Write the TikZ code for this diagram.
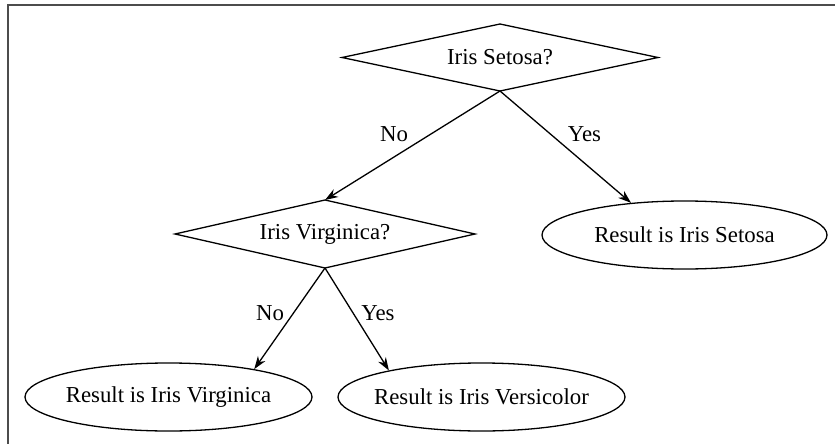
\documentclass[tikz,border=0pt]{standalone}
\usepackage{fontspec}
\setmainfont{Liberation Serif}
\usetikzlibrary{shapes.geometric,arrows.meta}
\begin{document}
\begin{tikzpicture}[x=1pt,y=-1pt,
  every node/.style={font=\fontsize{22.8}{27}\selectfont},
  dec/.style={draw, line width=1.3pt, line join=miter},
  res/.style={draw, line width=1.3pt, ellipse, inner sep=0pt, minimum width=286pt, minimum height=68pt},
  arr/.style={line width=1.3pt, -{Stealth[length=13pt,width=9pt]}},
  lbl/.style={inner sep=0pt},
  frame/.style={draw=black!70, line width=2pt}]
\useasboundingbox (0,0) rectangle (835,444);
\coordinate (ftl) at (8,5);
\coordinate (ftr) at (836,5);
\coordinate (fbl) at (8,445);
\draw[frame] (ftr) -- (ftl) -- (fbl);
% decision 1
\coordinate (d1n) at (500,24);
\coordinate (d1s) at (500,91);
\coordinate (d1w) at (342,57.5);
\coordinate (d1e) at (658,57.5);
\draw[dec] (d1n) -- (d1e) -- (d1s) -- (d1w) -- cycle;
\node (d1) at (500,57.5) {Iris Setosa?};
% decision 2
\coordinate (d2n) at (325,200);
\coordinate (d2s) at (325,268);
\coordinate (d2w) at (175,234);
\coordinate (d2e) at (475,234);
\draw[dec] (d2n) -- (d2e) -- (d2s) -- (d2w) -- cycle;
\node (d2) at (325,234) {Iris Virginica?};
\node[res, minimum width=285pt] (s) at (684.5,235) {\makebox[0pt]{Result is Iris Setosa}};
\node[res, minimum width=287pt] (e1) at (168.5,397) {\makebox[0pt]{Result is Iris Virginica}};
\node[res, minimum width=287pt] (e2) at (481.5,397) {\makebox[0pt]{Result is Iris Versicolor}};
\draw[arr] (d1s) -- (d2n);
\draw[arr] (d1s) -- (s.149.5);
\draw[arr] (d2s) -- (e1.18);
\draw[arr] (d2s) -- (e2.164.5);
\node[lbl] (l1) at (394,134) {No};
\node[lbl] (l2) at (584.5,134) {Yes};
\node[lbl] (l3) at (270,313) {No};
\node[lbl] (l4) at (378,313) {Yes};
\end{tikzpicture}
\end{document}
